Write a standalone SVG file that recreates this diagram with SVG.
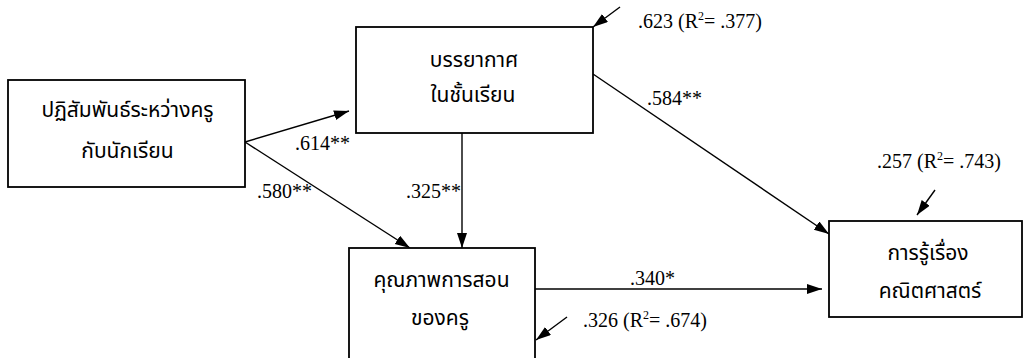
<svg xmlns="http://www.w3.org/2000/svg" width="1028" height="358" viewBox="0 0 1028 358">
<style>
.box{fill:#fff;stroke:#000;stroke-width:1.8}
.th{font-family:"Noto Sans Thai","Noto Sans","DejaVu Sans",sans-serif;font-size:21px;fill:#000;text-anchor:middle}
.lb{font-family:"Liberation Serif","Times New Roman",serif;font-size:20px;fill:#000}
.sup{font-size:12px}
.ln{stroke:#000;stroke-width:1.4;fill:none;marker-end:url(#ah)}
</style>
<defs>
<marker id="ah" markerUnits="userSpaceOnUse" markerWidth="16" markerHeight="12" refX="15" refY="5" orient="auto">
<path d="M0,0 L15,5 L0,10 z" fill="#000"/>
</marker>
</defs>
<g id="connectors">
<line class="ln" x1="245" y1="142" x2="349" y2="111"/>
<line class="ln" x1="245" y1="142" x2="410" y2="248"/>
<line class="ln" x1="462" y1="133" x2="462" y2="248"/>
<line class="ln" x1="593" y1="74" x2="829" y2="234"/>
<line class="ln" x1="535" y1="289" x2="822" y2="289"/>
<line class="ln" x1="620" y1="7" x2="593" y2="27"/>
<line class="ln" x1="935" y1="190" x2="917" y2="215"/>
<line class="ln" x1="567" y1="317" x2="536" y2="340"/>
</g>
<g id="n1">
<rect class="box" x="8" y="80" width="237" height="107"/>
<text class="th" x="127.5" y="117">ปฏิสัมพันธ์ระหว่างครู</text>
<text class="th" x="127.5" y="158">กับนักเรียน</text>
</g>
<g id="n2">
<rect class="box" x="356" y="27" width="237" height="106"/>
<text class="th" x="474" y="67">บรรยากาศ</text>
<text class="th" x="473" y="102">ในชั้นเรียน</text>
</g>
<g id="n3">
<rect class="box" x="349" y="248" width="186" height="112"/>
<text class="th" x="441.5" y="287">คุณภาพการสอน</text>
<text class="th" x="440" y="325">ของครู</text>
</g>
<g id="n4">
<rect class="box" x="829" y="221" width="193" height="96"/>
<text class="th" x="928" y="260">การรู้เรื่อง</text>
<text class="th" x="930" y="298">คณิตศาสตร์</text>
</g>
<g id="labels">
<text class="lb" x="295" y="150">.614**</text>
<text class="lb" x="257" y="198">.580**</text>
<text class="lb" x="406" y="198">.325**</text>
<text class="lb" x="647" y="105">.584**</text>
<text class="lb" x="630" y="285">.340*</text>
<text class="lb" x="638" y="28">.623 (R<tspan class="sup" dy="-8">2</tspan><tspan dy="8">= .377)</tspan></text>
<text class="lb" x="877" y="168">.257 (R<tspan class="sup" dy="-8">2</tspan><tspan dy="8">= .743)</tspan></text>
<text class="lb" x="583" y="327">.326 (R<tspan class="sup" dy="-8">2</tspan><tspan dy="8">= .674)</tspan></text>
</g>
</svg>
